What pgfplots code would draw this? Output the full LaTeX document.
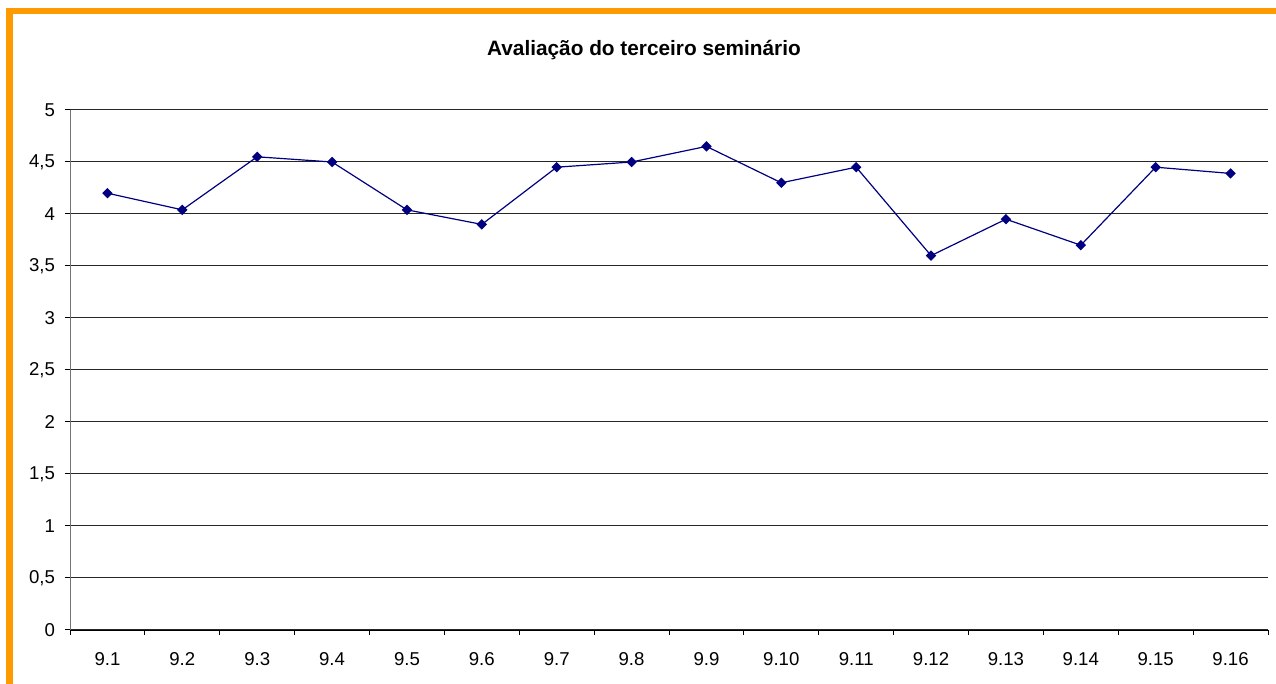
\documentclass[border=0pt]{standalone}
\usepackage{pgfplots}
\pgfplotsset{compat=1.18}
\usepackage{fontspec}
\setmainfont{Liberation Sans}
\definecolor{frameorange}{HTML}{FF9900}
\definecolor{navyline}{HTML}{000080}
\begin{document}
\begin{tikzpicture}
\path[use as bounding box] (0,0) rectangle (638pt,342pt);
\fill[white] (0,0) rectangle (638pt,342pt);
\fill[frameorange] (3pt,0) rectangle (6.7pt,338pt);
\fill[frameorange] (3pt,335pt) rectangle (638pt,338pt);
\node[font=\fontsize{10.4}{12}\selectfont\bfseries, anchor=base] at (322pt,314pt) {Avaliação do terceiro seminário};
\begin{axis}[
  at={(35pt,27pt)}, anchor=south west,
  scale only axis, width=599pt, height=260pt,
  xmin=-0.5, xmax=15.5, ymin=0, ymax=5,
  axis x line=bottom, axis y line=left,
  axis line style={-},
  y axis line style={draw=gray!90!black},
  x axis line style={draw=black},
  xtick={0,...,15},
  xticklabels={9.1,9.2,9.3,9.4,9.5,9.6,9.7,9.8,9.9,9.10,9.11,9.12,9.13,9.14,9.15,9.16},
  minor xtick={-0.5,0.5,...,15.5},
  ytick={0,0.5,...,5},
  tick align=outside,
  major tick length=2.5pt,
  minor tick length=2.5pt,
  x tick style={draw=none},
  minor x tick style={draw=black, line width=0.5pt},
  y tick style={draw=black, line width=0.5pt},
  ymajorgrids,
  major grid style={draw=black!85, line width=0.5pt},
  ticklabel style={font=\fontsize{9.3}{11}\selectfont},
  /pgf/number format/assume math mode=true,
  /pgf/number format/use comma,
  /pgf/number format/fixed,
  /pgf/number format/precision=1,
  xticklabel style={yshift=-5pt},
  yticklabel style={xshift=-1.5pt},
  clip=false,
]
\addplot[navyline, line width=0.6pt, mark=square*, mark size=1.55pt, mark options={fill=navyline, draw=navyline, rotate=45}]
coordinates {
(0,4.20) (1,4.04) (2,4.55) (3,4.50) (4,4.04) (5,3.90) (6,4.45) (7,4.50)
(8,4.65) (9,4.30) (10,4.45) (11,3.60) (12,3.95) (13,3.70) (14,4.45) (15,4.39)
};
\end{axis}
\end{tikzpicture}
\end{document}
